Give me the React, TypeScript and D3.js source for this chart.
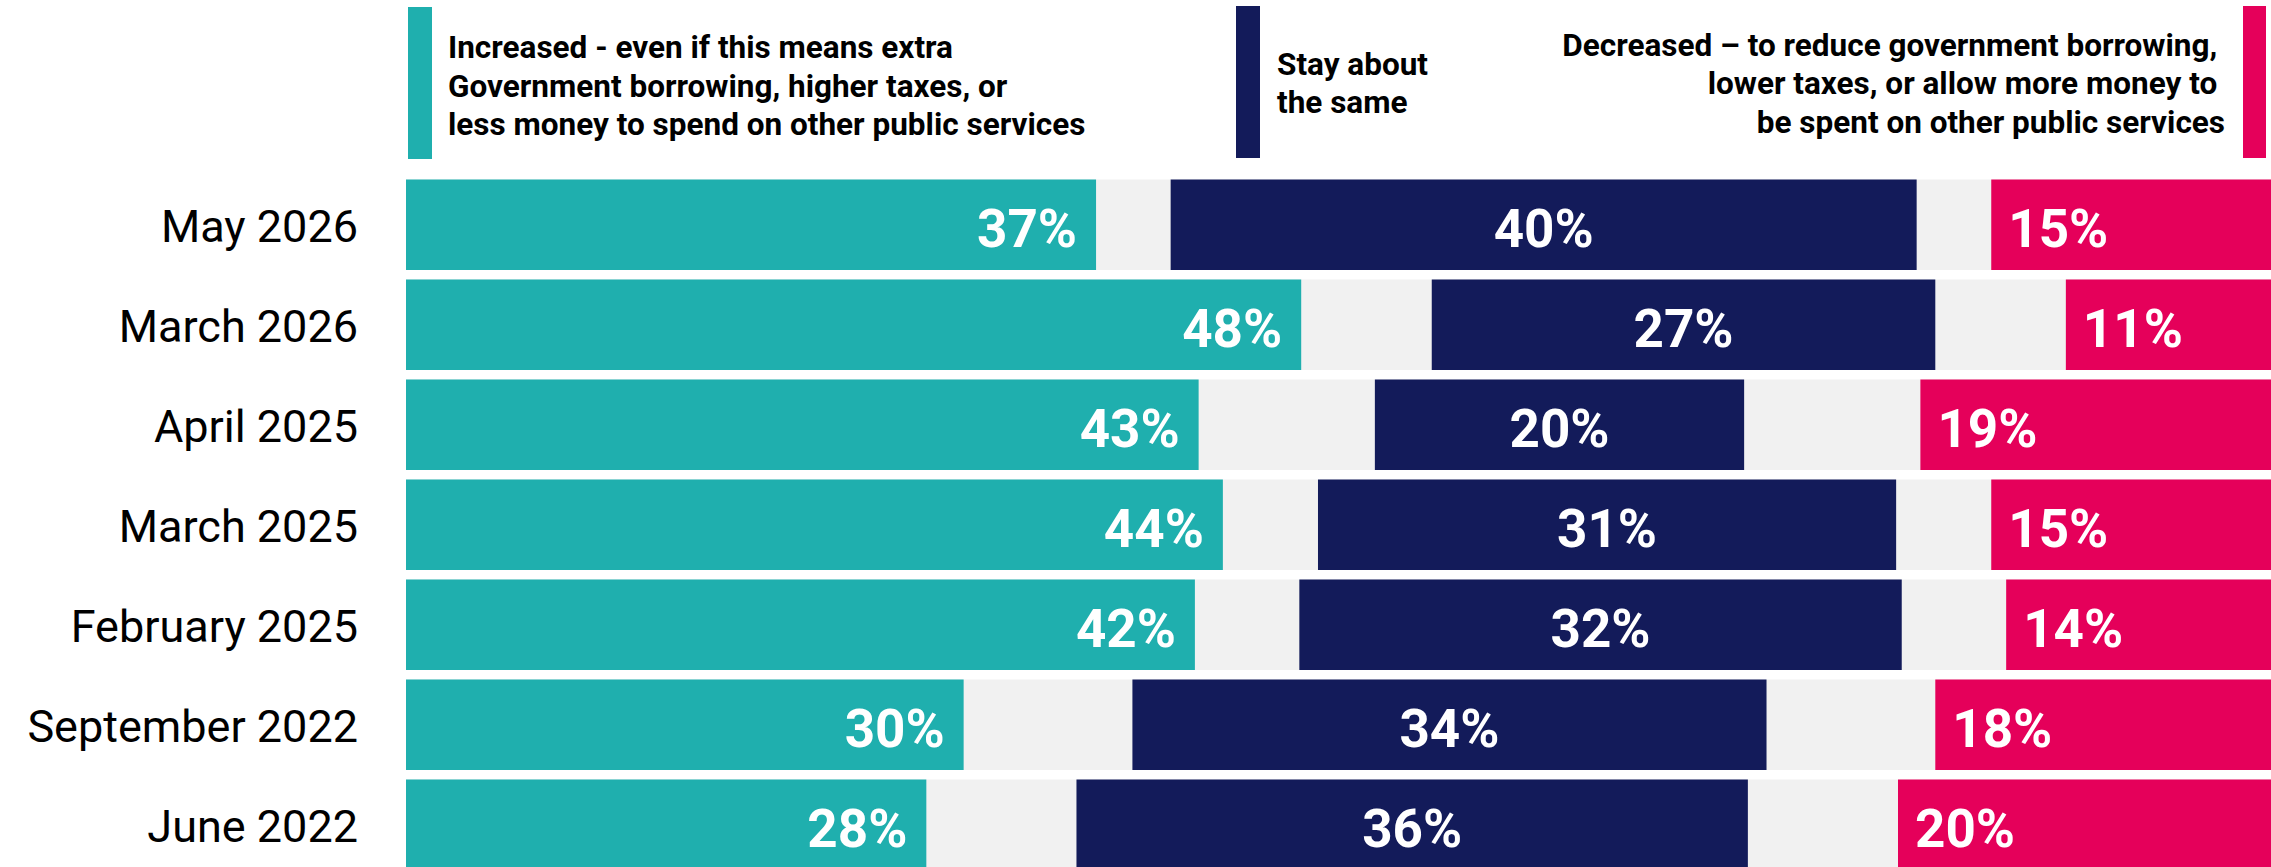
import React from "react";
import * as d3 from "d3";

const categories = ["May 2026", "March 2026", "April 2025", "March 2025", "February 2025", "September 2022", "June 2022"];
const increased = [37, 48, 42.5, 43.8, 42.3, 29.9, 27.9];
const staySame = [40, 27, 19.8, 31, 32.3, 34, 36];
const decreased = [15, 11, 18.8, 15, 14.2, 18, 20];

const legendIncreased = ["Increased - even if this means extra", "Government borrowing, higher taxes, or", "less money to spend on other public services"];
const legendStay = ["Stay about", "the same"];
const legendDecreased = ["Decreased \u2013 to reduce government borrowing, ", "lower taxes, or allow more money to ", "be spent on other public services"];

const COLORS = { inc: "#1FAFAE", stay: "#131B5A", dec: "#E5005A", gap: "#F1F1F1" };
const W = 2271;
const H = 867;
const FONT = "Roboto, 'Noto Sans', sans-serif";

export default function App() {
  const x = d3.scaleLinear().domain([0, 100]).range([406, 2271]);
  const y = d3
    .scaleBand<string>()
    .domain(categories)
    .range([174.75, 874.75])
    .paddingInner(0.095)
    .paddingOuter(0.0475);
  const bw = y.bandwidth();
  const fmt = (v: number) => `${Math.round(v)}%`;

  const rows = categories.map((c, i) => {
    const inc = increased[i];
    const st = staySame[i];
    const dec = decreased[i];
    const gap = (100 - inc - st - dec) / 2;
    return { c, inc, st, dec, s0: inc + gap, s1: inc + gap + st, d0: 100 - dec };
  });

  const legendLine = 38.3;
  return (
    <svg width={W} height={H} style={{ position: "absolute", left: 0, top: 0, background: "#fff" }} fontFamily={FONT}>
      {/* legend */}
      <rect x={408} y={7} width={24} height={152} fill={COLORS.inc} />
      {legendIncreased.map((t, i) => (
        <text key={t} x={448} y={58.3 + i * legendLine} fontSize={31.5} fontWeight={700} fill="#000">
          {t}
        </text>
      ))}
      <rect x={1236} y={6} width={24} height={152} fill={COLORS.stay} />
      {legendStay.map((t, i) => (
        <text key={t} x={1277} y={75 + i * legendLine} fontSize={31.5} fontWeight={700} fill="#000">
          {t}
        </text>
      ))}
      <rect x={2243} y={6} width={23} height={152} fill={COLORS.dec} />
      {legendDecreased.map((t, i) => (
        <text key={t} x={2225} y={56 + i * legendLine} fontSize={31.5} fontWeight={700} fill="#000" textAnchor="end" style={{ whiteSpace: "pre" }}>
          {t}
        </text>
      ))}

      {/* bars */}
      {rows.map((r) => {
        const y0 = y(r.c)!;
        const cy = y0 + bw / 2;
        return (
          <g key={r.c}>
            <text x={358} y={cy + 17} fontSize={45} fill="#000" textAnchor="end">
              {r.c}
            </text>
            <rect x={x(0)} y={y0} width={x(100) - x(0)} height={bw} fill={COLORS.gap} />
            <rect x={x(0)} y={y0} width={x(r.inc) - x(0)} height={bw} fill={COLORS.inc} />
            <rect x={x(r.s0)} y={y0} width={x(r.s1) - x(r.s0)} height={bw} fill={COLORS.stay} />
            <rect x={x(r.d0)} y={y0} width={x(100) - x(r.d0)} height={bw} fill={COLORS.dec} />
            <text x={x(r.inc) - 19} y={cy + 22.5} fontSize={53} fontWeight={700} fill="#fff" textAnchor="end">
              {fmt(r.inc)}
            </text>
            <text x={(x(r.s0) + x(r.s1)) / 2} y={cy + 22.5} fontSize={53} fontWeight={700} fill="#fff" textAnchor="middle">
              {fmt(r.st)}
            </text>
            <text x={x(r.d0) + 17} y={cy + 22.5} fontSize={53} fontWeight={700} fill="#fff" textAnchor="start">
              {fmt(r.dec)}
            </text>
          </g>
        );
      })}
    </svg>
  );
}
